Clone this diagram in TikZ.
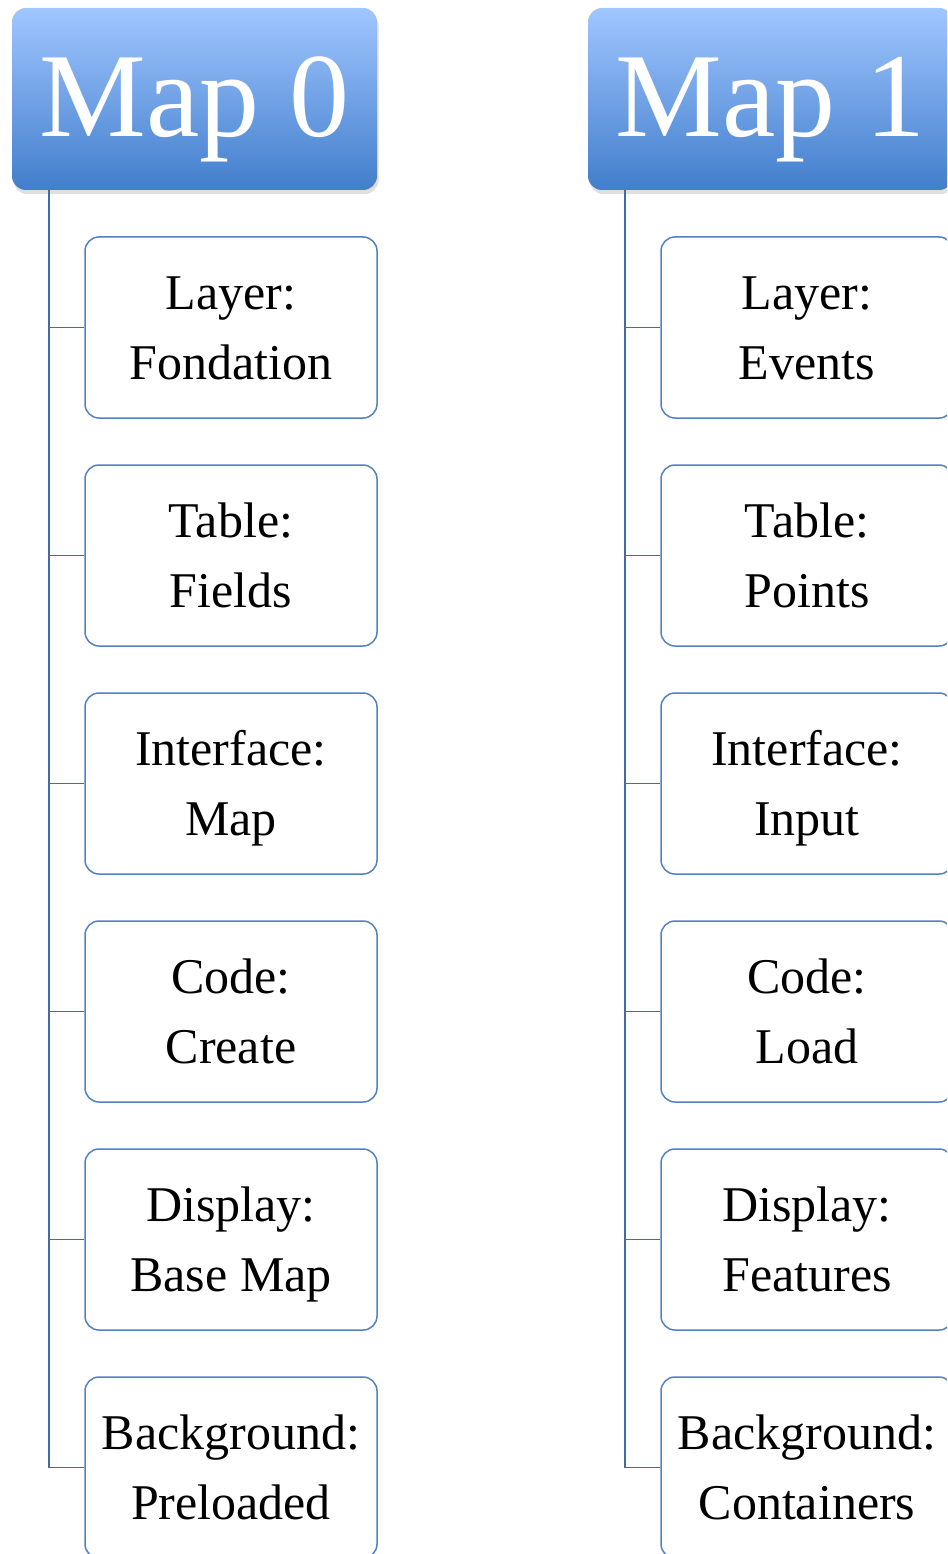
\documentclass[tikz,border=0pt]{standalone}
\usepackage{fontspec}
\setmainfont{Liberation Serif}
\usepackage{xcolor}
\usetikzlibrary{positioning, shadows}

\definecolor{hdrtop}{RGB}{160,198,255}
\definecolor{hdrbot}{RGB}{66,126,204}
\definecolor{boxline}{RGB}{82,130,192}
\definecolor{treeline}{RGB}{68,106,164}

% two-line label with fixed line heights
\newcommand{\lbl}[2]{\rule{0pt}{52pt}#1\\#2\rule[-18pt]{0pt}{18pt}}

\begin{document}
\begin{tikzpicture}[
  x=1pt, y=-1pt,
  node distance=45.5pt,
  head/.style={rectangle, rounded corners=14pt, top color=hdrtop, bottom color=hdrbot,
    minimum width=365pt, minimum height=182pt, inner sep=0pt, text=white,
    font=\fontsize{120}{120}\selectfont, text height=100pt, text depth=24pt,
    drop shadow={opacity=0.25, shadow xshift=1.5pt, shadow yshift=-4pt}},
  item/.style={rectangle, draw=boxline, line width=1.5pt, rounded corners=14pt, fill=white,
    minimum width=292pt, minimum height=181pt, inner sep=0pt, align=center,
    font=\fontsize{50}{70}\selectfont},
  link/.style={draw=treeline, line width=1.6pt}
]
  \useasboundingbox[fill=white] (0,0) rectangle (947,1554);
  \clip (0,0) rectangle (947,1554);

  % first map
  \node[head] (m0) at (194.5,99) {Map 0};
  \node[item] (lay0) at (231,327.5) {\lbl{Layer:}{Fondation}};
  \node[item, below=of lay0] (tab0) {\lbl{Table:}{Fields}};
  \node[item, below=of tab0] (ifc0) {\lbl{Interface:}{Map}};
  \node[item, below=of ifc0] (code0) {\lbl{Code:}{Create}};
  \node[item, below=of code0] (disp0) {\lbl{Display:}{Base Map}};
  \node[item, below=of disp0] (bg0) {\lbl{Background:}{Preloaded}};

  % second map
  \node[head] (m1) at (770.5,99) {Map 1};
  \node[item] (lay1) at (807,327.5) {\lbl{Layer:}{Events}};
  \node[item, below=of lay1] (tab1) {\lbl{Table:}{Points}};
  \node[item, below=of tab1] (ifc1) {\lbl{Interface:}{Input}};
  \node[item, below=of ifc1] (code1) {\lbl{Code:}{Load}};
  \node[item, below=of code1] (disp1) {\lbl{Display:}{Features}};
  \node[item, below=of disp1] (bg1) {\lbl{Background:}{Containers}};

  \foreach \c in {lay0,tab0,ifc0,code0,disp0,bg0}
    \draw[link] ([xshift=37pt]m0.south west) |- (\c.west);
  \foreach \c in {lay1,tab1,ifc1,code1,disp1,bg1}
    \draw[link] ([xshift=37pt]m1.south west) |- (\c.west);
\end{tikzpicture}
\end{document}
